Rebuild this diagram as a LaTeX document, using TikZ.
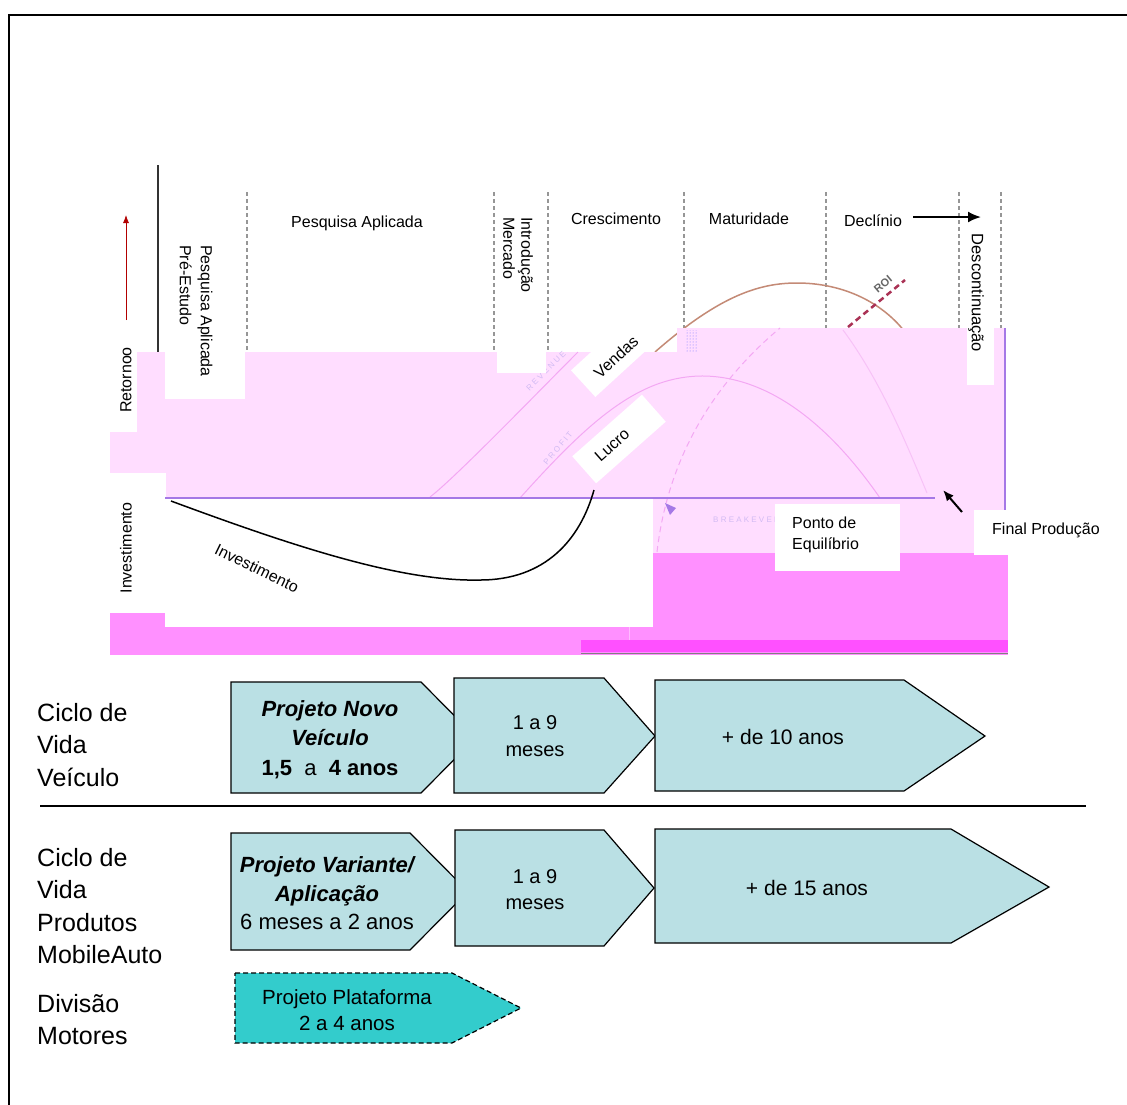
\documentclass[tikz,border=0pt]{standalone}
\usepackage{fontspec}
\setmainfont{Liberation Sans}
\usetikzlibrary{arrows.meta,patterns}
\definecolor{lcpink}{RGB}{255,221,255}
\definecolor{lcpinkhi}{RGB}{255,144,255}
\definecolor{lcmagenta}{RGB}{255,80,255}
\definecolor{lcfaint}{RGB}{243,168,243}
\definecolor{lcpurple}{RGB}{165,120,230}
\definecolor{lctan}{RGB}{196,138,118}
\definecolor{lcroi}{RGB}{170,50,85}
\definecolor{lcteal}{RGB}{186,224,228}
\definecolor{lcplat}{RGB}{51,204,204}
\definecolor{lcgrid}{RGB}{150,150,150}

\begin{document}
\begin{tikzpicture}[x=1pt, y=-1pt, >=Latex]
  \tikzstyle{lbl}=[inner sep=0pt,font=\fontsize{16}{19}\selectfont]
  \tikzstyle{phase}=[draw=lcgrid,line width=1.5pt,dash pattern=on 4pt off 3pt]
  \tikzstyle{faint}=[draw=lcfaint,line width=1pt]
  \tikzstyle{ghost}=[inner sep=0pt,text=lcpurple!50,font=\fontsize{8}{9}\selectfont]
  \tikzstyle{chev}=[draw=black,line width=1.2pt,fill=lcteal]
  \tikzstyle{rowlbl}=[anchor=west,align=left,inner sep=0pt,font=\fontsize{25}{32.5}\selectfont]
  \tikzstyle{boxtxt}=[align=center,inner sep=0pt,font=\fontsize{21}{27}\selectfont]

  \useasboundingbox (0,0) rectangle (1127,1104);
  \fill[white] (0,0) rectangle (1127,1104);
  % frame
  \draw[line width=2pt] (9,1110) -- (9,15) -- (1130,15);

  % phase grid
  \foreach \gx/\gy in {247/352,494/352,548/352,684/328,826/328,959/328,1001/328}
    \draw[phase] (\gx,192) -- (\gx,\gy);
  \draw[line width=2pt,black!80] (158,165) -- (158,352);
  \coordinate (ret0) at (126,320);
  \coordinate (ret1) at (126,215);
  \draw[->,red!70!black,line width=0.8pt,>={Latex[length=8pt,width=6pt]}] (ret0) -- (ret1);

  % sales curve and ROI
  \draw[lctan,line width=1.5pt] (655,352) .. controls (720,295) and (760,283) .. (797,283)
    .. controls (840,283) and (880,300) .. (905,332);
  \draw[lcroi,line width=2.5pt,dash pattern=on 6pt off 4pt] (848,327) -- (905,280);
  \node[inner sep=0pt,rotate=40,text=black!60,font=\bfseries\fontsize{11}{13}\selectfont] (roi) at (883,284) {ROI};

  % pink layers
  \fill[lcpink] (110,352) rectangle (1005,553);
  \fill[lcpink] (677,328) rectangle (1005,352);
  \fill[lcpinkhi] (110,553) rectangle (1008,655);
  \fill[lcmagenta] (581,640) rectangle (1008,652);
  \draw[black!50,line width=1pt] (581,653) -- (1008,653);
  \fill[pattern=dots,pattern color=blue!55] (685,330) rectangle (698,352);

  % faint curves
  \draw[faint] (430,497) .. controls (455,478) and (540,390) .. (578,352);
  \draw[faint] (520,498) .. controls (590,420) and (640,375) .. (705,376)
    .. controls (780,378) and (840,440) .. (880,498);
  \draw[faint,dash pattern=on 6pt off 4pt] (657,552) .. controls (670,440) and (730,370) .. (780,328);
  \draw[faint,draw=lcfaint!70!white] (843,330) .. controls (880,380) and (905,440) .. (927,493);
  \fill[lcpurple] (665,503) -- (676,508) -- (670,515) -- cycle;
  \node[ghost,rotate=45] (revenue) at (546,371) {R E V E N U E};
  \node[ghost,rotate=50] (profit) at (558,448) {P R O F I T};
  \node[ghost,anchor=west] (breakeven) at (713,520) {B R E A K E V E N};

  % white label boxes
  \fill[white] (110,340) rectangle (137,432);
  \fill[white] (165,340) rectangle (245,399);
  \fill[white] (497,192) rectangle (546,373);
  \fill[white] (967,200) rectangle (994,385);
  \fill[white] (110,473) rectangle (166,613);
  \fill[white] (165,499) rectangle (653,627);
  \fill[white] (775,504) rectangle (900,571);
  \fill[white] (974,510) rectangle (1110,555);
  \draw[lcpinkhi!60!white,line width=1pt] (629,627) -- (629,640);

  % axis
  \draw[lcpurple,line width=1.5pt] (165,498) -- (935,498);
  \draw[lcpurple,line width=1.2pt] (1005,328) -- (1005,510);

  % rotated tags
  \fill[white,rotate around={42.5:(609,360)}] (574,342) rectangle (644,378);
  \fill[white,rotate around={41.5:(619,439)}] (572.5,421) rectangle (665.5,457);
  \node[lbl,rotate=42.5] (vendas) at (616,357) {Vendas};
  \node[lbl,rotate=41.5] (lucro) at (612,445) {Lucro};

  % chart labels
  \node[lbl,rotate=90] (retorno) at (126,380) {Retornoo};
  \node[lbl,rotate=90] (investv) at (126,548) {Investimento};
  \node[lbl,rotate=-90,align=left,font=\fontsize{16}{21}\selectfont] (preest) at (196,311) {Pesquisa Aplicada\\Pré-Estudo};
  \node[lbl] (pesquisa) at (357,223) {Pesquisa Aplicada};
  \node[lbl,rotate=-90,align=left,font=\fontsize{16}{18}\selectfont] (intro) at (518,255) {Introdução\\Mercado};
  \node[lbl] (cresc) at (616,219) {Crescimento};
  \node[lbl] (matur) at (749,219) {Maturidade};
  \node[lbl] (declinio) at (873,221) {Declínio};
  \node[lbl,rotate=-90,font=\fontsize{16.5}{19}\selectfont] (descont) at (976,293) {Descontinuação};
  \coordinate (decl1) at (981,217);
  \draw[->,line width=2pt,>={Latex[length=13pt,width=11pt]}] (913,217) -- (decl1);
  \node[lbl,anchor=west,align=left,font=\fontsize{16}{21}\selectfont] (equil) at (792,535) {Ponto de\\Equilíbrio};
  \node[lbl] (final) at (1046,530) {Final Produção};
  \coordinate (final0) at (962,512);
  \coordinate (final1) at (943,490);
  \draw[->,line width=2pt,>={Latex[length=11pt,width=9pt]}] (final0) -- (final1);

  % investment curve
  \draw[line width=1.5pt] (171,501) .. controls (290,545) and (400,582) .. (480,580)
    .. controls (545,580) and (580,540) .. (594,490);
  \node[lbl,rotate=-26] (investc) at (257,568) {Investimento};

  % life cycle rows
  \draw[chev] (231,682) -- (421,682) -- (476,737.5) -- (421,793) -- (231,793) -- cycle;
  \draw[chev] (454,678) -- (604,678) -- (655,736) -- (604,793) -- (454,793) -- cycle;
  \draw[chev] (655,680) -- (904,680) -- (985,736) -- (904,791) -- (655,791) -- cycle;
  \node[boxtxt,font=\fontsize{22}{29.5}\selectfont] (novo) at (330,739.5)
    {{\bfseries\itshape Projeto Novo}\\{\bfseries\itshape Veículo}\\{\bfseries 1,5}\ \ a\ \ {\bfseries 4 anos}};
  \node[boxtxt,font=\fontsize{20}{27}\selectfont] (meses1) at (535,736.5) {1 a 9\\meses};
  \node[boxtxt] (dez) at (783,737) {+ de 10 anos};
  \node[rowlbl] (rowveic) at (37,745) {Ciclo de\\Vida\\Veículo};

  \draw[line width=2pt] (40,806) -- (1086,806);

  \draw[chev] (231,833) -- (410,833) -- (468,891.5) -- (410,950) -- (231,950) -- cycle;
  \draw[chev] (455,830) -- (604,830) -- (654,888) -- (604,946) -- (455,946) -- cycle;
  \draw[chev] (655,829) -- (951,829) -- (1049,887) -- (951,943) -- (655,943) -- cycle;
  \node[boxtxt,font=\fontsize{22}{28.5}\selectfont] (variante) at (327,893.5)
    {{\bfseries\itshape Projeto Variante/}\\{\bfseries\itshape Aplicação}\hspace*{18pt}\\6 meses a 2 anos};
  \node[boxtxt,font=\fontsize{20}{26}\selectfont] (meses2) at (535,890) {1 a 9\\meses};
  \node[boxtxt] (quinze) at (807,888) {+ de 15 anos};
  \node[rowlbl] (rowprod) at (37,906) {Ciclo de\\Vida\\Produtos\\MobileAuto};

  \draw[chev,fill=lcplat,dash pattern=on 5pt off 3pt] (235,973) -- (452,973) -- (521,1008) -- (452,1043) -- (235,1043) -- cycle;
  \node[boxtxt,font=\fontsize{20.5}{26}\selectfont] (plataf) at (347,1010) {Projeto Plataforma\\2 a 4 anos};
  \node[rowlbl] (rowmot) at (37,1019.5) {Divisão\\Motores};
\end{tikzpicture}
\end{document}
